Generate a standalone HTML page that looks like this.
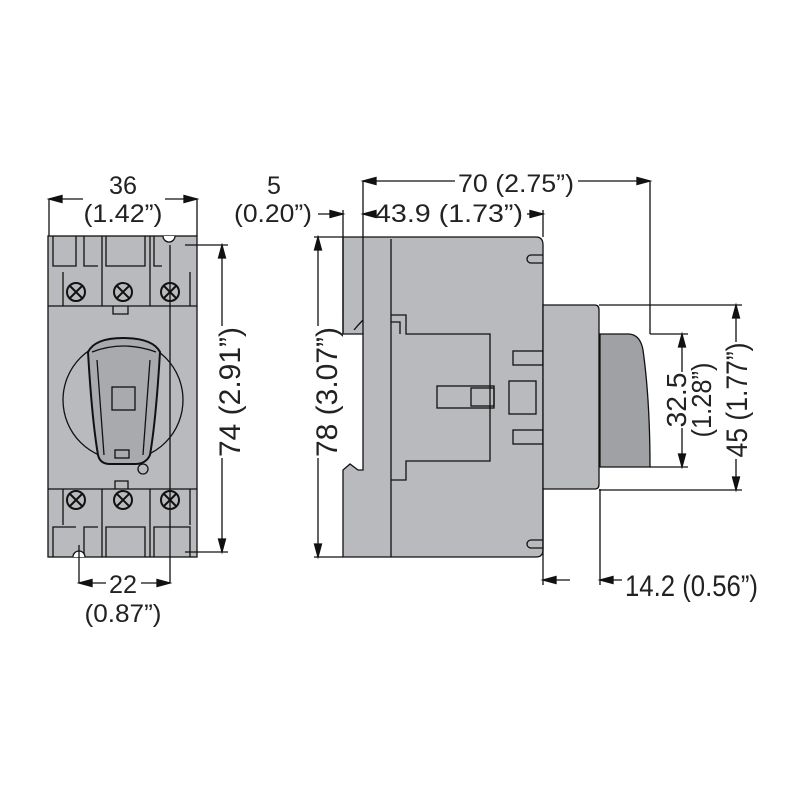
<!DOCTYPE html>
<html><head><meta charset="utf-8"><style>
html,body{margin:0;padding:0;background:#fff}
svg text{font-family:"Liberation Sans",sans-serif;font-size:25px;fill:#222}
</style></head><body>
<svg id="s" width="800" height="800" viewBox="0 0 800 800" xmlns="http://www.w3.org/2000/svg">
<g stroke="#111" stroke-width="1.3" fill="none">
<rect x="48" y="236" width="149" height="321" fill="#b9babd"/>
<line x1="48" y1="306" x2="197" y2="306"/>
<line x1="48" y1="489" x2="197" y2="489"/>
<path d="M53 236 V266 H76 V236 M84 236 V266 H98 M102 236 V306 M106 236 V266 H145 V236 M150 236 V306 M154 236 V266 H162" />
<path d="M53 557 V527 H76 M84 557 V527 H98 M102 557 V489 M106 557 V527 H145 V557 M150 557 V489 M154 557 V527 H190 V557" />
<path d="M63 272 V306 M190 272 V306 M63 489 V525 M190 489 V525"/>
<path d="M113 306 V314 H128 V306 M115 489 V481 H128 V489"/>
<circle cx="123" cy="400" r="60"/>
<path d="M88 352 Q95 338 123 338 Q153 338 160 352 Q156 420 150 455 Q146 464 135 464 L110 464 Q100 464 98 455 Q92 420 88 352 Z" fill="#a9aaad" stroke-width="2"/>
<path d="M97 360 L104 455 M150 360 L143 455 M92 352 Q123 340 156 352"/>
<rect x="112" y="387" width="23" height="23"/>
<circle cx="143" cy="469" r="5"/>
<rect x="115" y="450" width="14" height="8"/>
<g stroke-width="2">
<circle cx="76" cy="292" r="9"/><circle cx="123" cy="292" r="9"/><circle cx="170" cy="292" r="9"/>
<circle cx="76" cy="500" r="9"/><circle cx="123" cy="500" r="9"/><circle cx="170" cy="500" r="9"/>
<path d="M70 286 L82 298 M82 286 L70 298 M117 286 L129 298 M129 286 L117 298 M164 286 L176 298 M176 286 L164 298"/>
<path d="M70 494 L82 506 M82 494 L70 506 M117 494 L129 506 M129 494 L117 506 M164 494 L176 506 M176 494 L164 506"/>
</g>
<path d="M163 236 A6 6 0 0 0 175 236" fill="#fff"/>
<path d="M73 557 A6 6 0 0 1 85 557" fill="#fff"/>
<path d="M343 237 H536 Q543 237 543 245 V550 Q543 557 536 557 H343 V470 L350 464 L358 470 H363 V334 L348 334 L343 334 Z" fill="#b9babd"/>
<path d="M343 237 V334 M363 237 V334 M363 320 Q358 325 354 330"/>
<line x1="391" y1="239" x2="391" y2="557"/>
<path d="M391 315 H406 V334 H490 V461 H406 V480 H391"/>
<path d="M391 322 H400 V334"/>
<rect x="437" y="386" width="57" height="22"/>
<rect x="471" y="388" width="23" height="18"/>
<rect x="509" y="381" width="27" height="33"/>
<rect x="513" y="351" width="30" height="14"/>
<rect x="513" y="430" width="30" height="14"/>
<path d="M543 255 H531 A4 4 0 0 0 531 263 H543 M543 540 H531 A4 4 0 0 0 531 548 H543"/>
<path d="M543 305 H595 Q599 305 599 310 V484 Q599 489 595 489 H543 Z" fill="#b9babd"/>
<path d="M600 334 H628 Q640 334 643 350 Q650 400 650 467 H600 Z" fill="#a0a1a4"/>
<path d="M49 236 V199 M197 236 V199"/>
<path d="M343 237 V210 M363 237 V181 M543 237 V210 M650 181 V334"/>
<path d="M185 245 H228 M185 552 H228"/>
<path d="M170 245 V583 M79 545 V583"/>
<path d="M343 237 H314 M343 557 H314"/>
<path d="M650 334 H688 M650 467 H688"/>
<path d="M599 305 H742 M599 490 H742"/>
<path d="M543 489 V585 M600 489 V585"/>
<g id="dims"></g>
</g>
<g>
<text x="123" y="194" text-anchor="middle" textLength="28" lengthAdjust="spacingAndGlyphs">36</text>
<text x="123" y="222" text-anchor="middle" textLength="79" lengthAdjust="spacingAndGlyphs">(1.42”)</text>
<text x="274" y="194" text-anchor="middle">5</text>
<text x="273" y="222" text-anchor="middle" textLength="78" lengthAdjust="spacingAndGlyphs">(0.20”)</text>
<text x="516" y="192" text-anchor="middle" textLength="116" lengthAdjust="spacingAndGlyphs">70 (2.75”)</text>
<text x="449" y="222" text-anchor="middle" textLength="148" lengthAdjust="spacingAndGlyphs">43.9 (1.73”)</text>
<text x="123" y="593" text-anchor="middle" textLength="28" lengthAdjust="spacingAndGlyphs">22</text>
<text x="123" y="622" text-anchor="middle" textLength="77" lengthAdjust="spacingAndGlyphs">(0.87”)</text>
<text x="625" y="596" textLength="133" lengthAdjust="spacingAndGlyphs" style="font-size:30px">14.2 (0.56”)</text>
<text transform="translate(240,392) rotate(-90)" text-anchor="middle" textLength="130" lengthAdjust="spacingAndGlyphs" style="font-size:30px">74 (2.91”)</text>
<text transform="translate(337,392) rotate(-90)" text-anchor="middle" textLength="130" lengthAdjust="spacingAndGlyphs" style="font-size:30px">78 (3.07”)</text>
<text transform="translate(686,400) rotate(-90)" text-anchor="middle" textLength="55" lengthAdjust="spacingAndGlyphs" style="font-size:28px">32.5</text>
<text transform="translate(711,400) rotate(-90)" text-anchor="middle" textLength="75" lengthAdjust="spacingAndGlyphs" style="font-size:28px">(1.28”)</text>
<text transform="translate(747,400) rotate(-90)" text-anchor="middle" textLength="115" lengthAdjust="spacingAndGlyphs" style="font-size:30px">45 (1.77”)</text>
</g>
</svg>
<script>
var g=document.getElementById('dims');
function ar(x1,y1,x2,y2){
 var ns='http://www.w3.org/2000/svg';
 var l=document.createElementNS(ns,'line');
 l.setAttribute('x1',x1);l.setAttribute('y1',y1);l.setAttribute('x2',x2);l.setAttribute('y2',y2);
 g.appendChild(l);
 var dx=x2-x1,dy=y2-y1,d=Math.sqrt(dx*dx+dy*dy);dx/=d;dy/=d;
 var L=13,W=3.5,bx=x2-dx*L,by=y2-dy*L;
 var p=document.createElementNS(ns,'path');
 p.setAttribute('d','M'+x2+' '+y2+' L'+(bx-dy*W)+' '+(by+dx*W)+' L'+(bx+dy*W)+' '+(by-dx*W)+' Z');
 p.setAttribute('fill','#111');
 g.appendChild(p);
}
ar(83,199,49,199);ar(165,199,197,199);
ar(318,214,343,214);ar(372,214,363,214);ar(527,214,543,214);
ar(455,181,363,181);ar(578,181,650,181);
ar(222,326,222,245);ar(222,458,222,552);
ar(106,583,79,583);ar(141,583,170,583);
ar(318,326,318,237);ar(318,458,318,557);
ar(682,372,682,334);ar(682,428,682,467);
ar(736,342,736,305);ar(736,459,736,490);
ar(570,580,543,580);ar(622,580,600,580);
</script>
</body></html>
